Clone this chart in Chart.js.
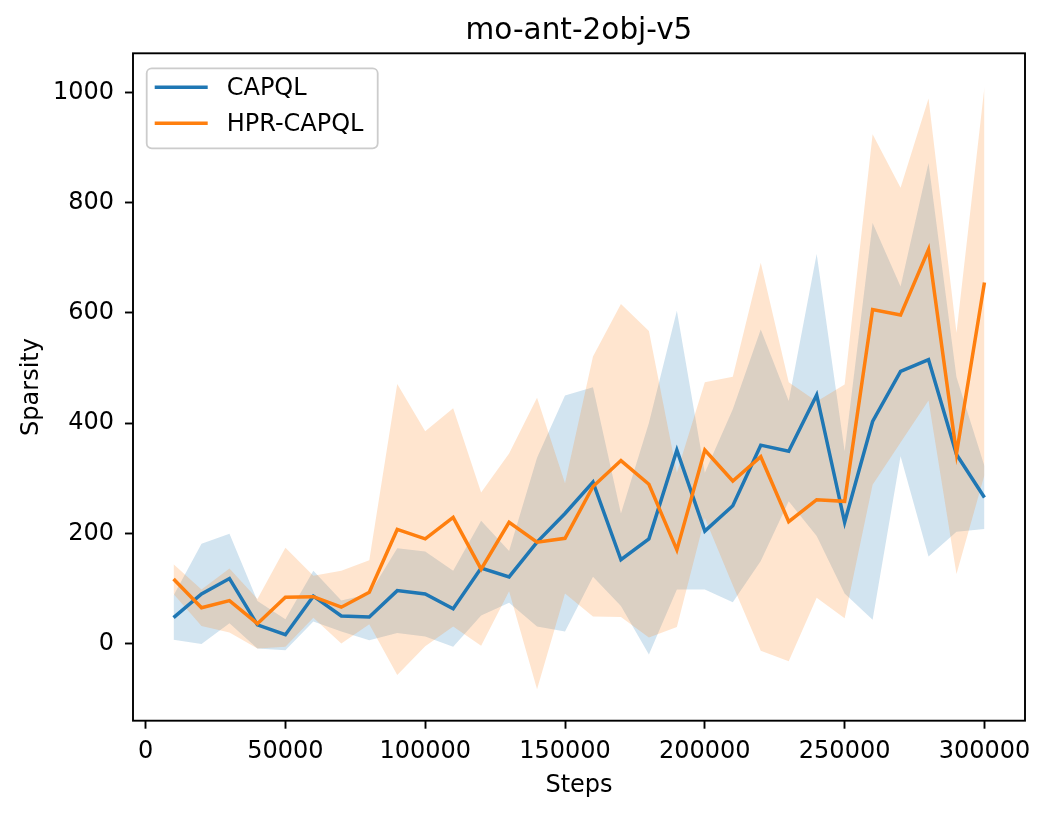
<!DOCTYPE html>
<html>
<head>
<meta charset="utf-8">
<script src="https://cdn.jsdelivr.net/npm/chart.js@4.4.0/dist/chart.umd.min.js"></script>
<style>
    html, body { margin: 0; padding: 0; background: #ffffff; }
    #wrap { width: 1050px; height: 814px; }
</style>
</head>
<body>
<div id="wrap"><canvas id="sparsityChart" width="1050" height="814"></canvas></div>
<script>
// values
const steps = [10000, 20000, 30000, 40000, 50000, 60000, 70000, 80000, 90000, 100000,
    110000, 120000, 130000, 140000, 150000, 160000, 170000, 180000, 190000, 200000,
    210000, 220000, 230000, 240000, 250000, 260000, 270000, 280000, 290000, 300000];

const capqlMean = [47, 90, 118, 34, 16, 86, 50, 48, 96, 90, 63, 137, 121, 184, 236,
    293, 152, 190, 351, 204, 250, 360, 349, 451, 220, 403, 494, 515, 343, 265];
const capqlUpper = [87, 181, 199, 77, 44, 132, 78, 90, 173, 167, 132, 223, 168, 337, 450,
    465, 236, 400, 604, 310, 425, 570, 440, 707, 349, 763, 648, 872, 483, 322];
const capqlLower = [7, -1, 37, -9, -12, 40, 22, 6, 19, 13, -6, 51, 74, 31, 22,
    121, 68, -20, 98, 98, 75, 150, 258, 195, 91, 43, 340, 158, 203, 208];

const hprMean = [117, 65, 78, 36, 84, 85, 66, 93, 207, 190, 229, 135, 220, 184, 191,
    285, 332, 289, 170, 351, 295, 339, 221, 261, 258, 606, 596, 715, 345, 655];
const hprUpper = [144, 98, 136, 81, 174, 123, 132, 151, 471, 385, 427, 274, 345, 446, 291,
    521, 616, 567, 310, 474, 484, 691, 474, 439, 470, 924, 827, 989, 564, 1010];
const hprLower = [90, 32, 20, -9, -6, 47, 0, 35, -57, -5, 31, -4, 95, -83, 91,
    49, 48, 11, 30, 228, 106, -13, -32, 83, 46, 288, 365, 441, 126, 306];

const xTickValues = [0, 50000, 100000, 150000, 200000, 250000, 300000];
const yTickValues = [0, 200, 400, 600, 800, 1000];

const BLUE = '#1f77b4';
const ORANGE = '#ff7f0e';
const FONT = 'DejaVu Sans';

const toPoints = (ys) => steps.map((x, i) => ({ x: x, y: ys[i] }));

// spines on all four sides plus the matplotlib-like legend box
const frameAndLegend = {
    id: 'frameAndLegend',
    afterDraw(chart) {
        const { ctx, chartArea: a } = chart;
        ctx.save();
        ctx.strokeStyle = '#000000';
        ctx.lineWidth = 1.9;
        ctx.strokeRect(a.left, a.top, a.right - a.left, a.bottom - a.top);

        const items = chart.data.datasets.filter(d => d.label);
        const bx = a.left + 13.7, by = a.top + 15, bw = 231, bh = 80;
        ctx.beginPath();
        ctx.roundRect(bx, by, bw, bh, 5);
        ctx.fillStyle = 'rgba(255,255,255,0.8)';
        ctx.fill();
        ctx.strokeStyle = '#cccccc';
        ctx.lineWidth = 1.8;
        ctx.stroke();

        ctx.font = '24px "' + FONT + '"';
        ctx.textBaseline = 'middle';
        ctx.textAlign = 'left';
        items.forEach((d, i) => {
            const y = by + 19 + i * 36;
            ctx.beginPath();
            ctx.moveTo(bx + 8, y);
            ctx.lineTo(bx + 61, y);
            ctx.strokeStyle = d.borderColor;
            ctx.lineWidth = 3.5;
            ctx.stroke();
            ctx.fillStyle = '#000000';
            ctx.fillText(d.label, bx + 80, y + 1);
        });
        ctx.restore();
    }
};

const ctx = document.getElementById('sparsityChart');
new Chart(ctx, {
    type: 'line',
    data: {
        datasets: [
            {
                label: 'CAPQL',
                data: toPoints(capqlMean),
                borderColor: BLUE,
                borderWidth: 3.5,
                pointRadius: 0,
                tension: 0,
                fill: false,
                order: 1
            },
            {
                label: 'HPR-CAPQL',
                data: toPoints(hprMean),
                borderColor: ORANGE,
                borderWidth: 3.5,
                pointRadius: 0,
                tension: 0,
                fill: false,
                order: 0
            },
            {
                data: toPoints(capqlUpper),
                borderWidth: 0,
                borderColor: 'rgba(0,0,0,0)',
                backgroundColor: 'rgba(31,119,180,0.2)',
                pointRadius: 0,
                tension: 0,
                fill: '+1',
                order: 3
            },
            {
                data: toPoints(capqlLower),
                borderWidth: 0,
                borderColor: 'rgba(0,0,0,0)',
                pointRadius: 0,
                tension: 0,
                fill: false,
                order: 3
            },
            {
                data: toPoints(hprUpper),
                borderWidth: 0,
                borderColor: 'rgba(0,0,0,0)',
                backgroundColor: 'rgba(255,127,14,0.2)',
                pointRadius: 0,
                tension: 0,
                fill: '+1',
                order: 2
            },
            {
                data: toPoints(hprLower),
                borderWidth: 0,
                borderColor: 'rgba(0,0,0,0)',
                pointRadius: 0,
                tension: 0,
                fill: false,
                order: 2
            }
        ]
    },
    options: {
        responsive: false,
        animation: false,
        devicePixelRatio: 1,
        layout: {
            padding: { left: 0, right: 25, top: 0, bottom: 0 }
        },
        plugins: {
            legend: { display: false },
            tooltip: { enabled: false },
            title: {
                display: true,
                fullSize: false,
                text: 'mo-ant-2obj-v5',
                color: '#000000',
                font: { family: FONT, size: 29.5, weight: 'normal' },
                padding: { top: 13.7, bottom: 4.2 }
            }
        },
        scales: {
            x: {
                type: 'linear',
                min: -4500,
                max: 314500,
                afterFit: (scale) => { scale.height = 93.3; },
                afterBuildTicks: (scale) => { scale.ticks = xTickValues.map(v => ({ value: v })); },
                border: { display: false },
                grid: {
                    drawOnChartArea: false,
                    drawTicks: true,
                    tickLength: 8,
                    tickWidth: 1.9,
                    tickColor: '#000000'
                },
                ticks: {
                    color: '#000000',
                    padding: 9,
                    maxRotation: 0,
                    font: { family: FONT, size: 24 },
                    callback: (v) => String(v)
                },
                title: {
                    display: true,
                    text: 'Steps',
                    color: '#000000',
                    font: { family: FONT, size: 24 },
                    padding: { top: 0, bottom: 14 }
                }
            },
            y: {
                type: 'linear',
                min: -140,
                max: 1071,
                afterFit: (scale) => { scale.width = 133; },
                afterBuildTicks: (scale) => { scale.ticks = yTickValues.map(v => ({ value: v })); },
                border: { display: false },
                grid: {
                    drawOnChartArea: false,
                    drawTicks: true,
                    tickLength: 8,
                    tickWidth: 1.9,
                    tickColor: '#000000'
                },
                ticks: {
                    color: '#000000',
                    padding: 11,
                    font: { family: FONT, size: 24 },
                    callback: (v) => String(v)
                },
                title: {
                    display: true,
                    text: 'Sparsity',
                    color: '#000000',
                    font: { family: FONT, size: 24 },
                    padding: { top: 17, bottom: 0 }
                }
            }
        }
    },
    plugins: [frameAndLegend]
});
</script>
</body>
</html>
